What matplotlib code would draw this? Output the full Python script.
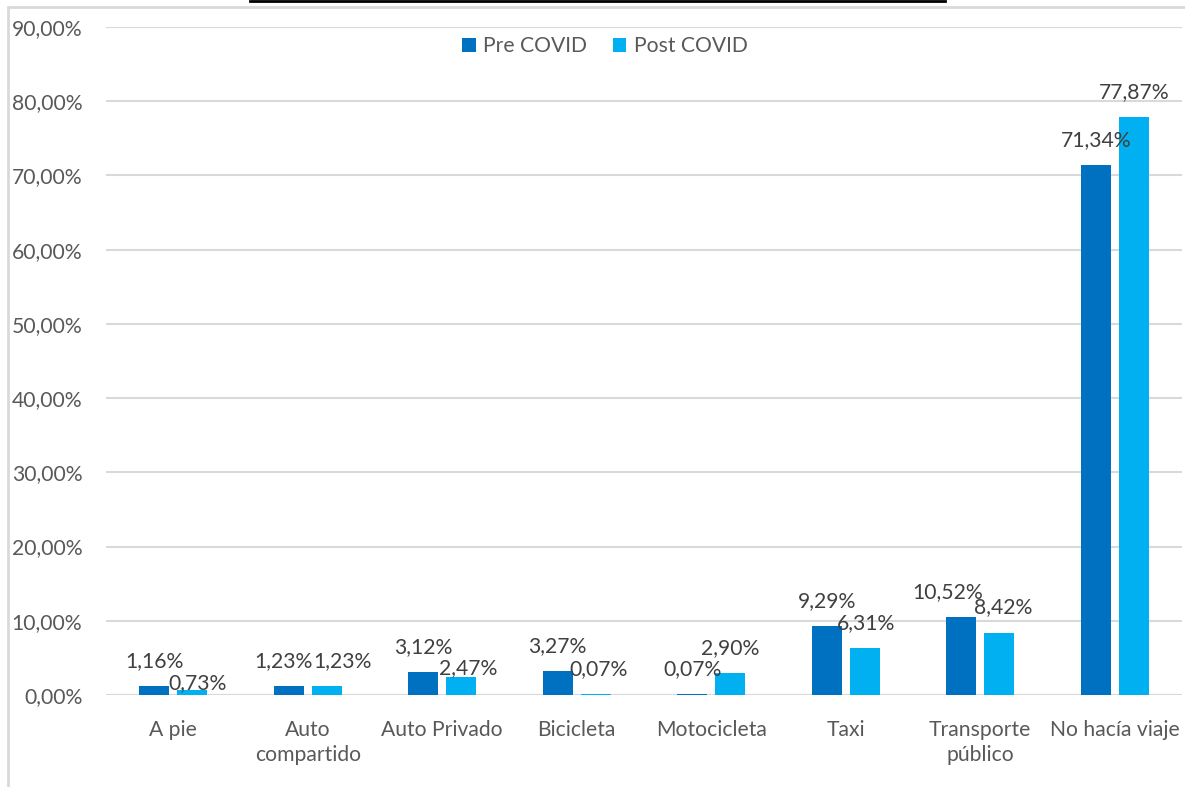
import matplotlib
matplotlib.use("Agg")
import matplotlib.pyplot as plt
import numpy as np
from matplotlib.lines import Line2D
from matplotlib.patches import Rectangle

categories = ["A pie", "Auto\ncompartido", "Auto Privado", "Bicicleta",
              "Motocicleta", "Taxi", "Transporte\npúblico", "No hacía viaje"]
pre_covid = [1.16, 1.23, 3.12, 3.27, 0.07, 9.29, 10.52, 71.34]
post_covid = [0.73, 1.23, 2.47, 0.07, 2.90, 6.31, 8.42, 77.87]
yticks = np.arange(0, 100, 10)

# nudges (pixels) of data labels, as Excel spreads crowded labels apart
pre_dx = [0, -5, 0, 0, 0, 0, -14, 0]
post_dx = [5, 16, 7, 3, 0, 1, 4, 0]
post_dy = [-19, 0, -16, 0, 0, 0, 0, 0]

PRE_C, POST_C = "#0070C0", "#00B0F0"
TXT = "#595959"
LBL = "#404040"
GRID = "#D9D9D9"
FS = 15.2
plt.rcParams["font.family"] = ["Lato", "DejaVu Sans"]

W, H = 1185, 787
fig = plt.figure(figsize=(W / 100, H / 100), dpi=100)
ax = fig.add_axes([106 / W, (H - 695) / H, (1182 - 106) / W, (695 - 27) / H])

x = np.arange(len(categories))
bw, gap = 0.223, 0.06
pre = np.array(pre_covid) / 100
post = np.array(post_covid) / 100
b1 = ax.bar(x - (bw + gap) / 2, pre, bw, color=PRE_C, label="Pre COVID", zorder=3)
b2 = ax.bar(x + (bw + gap) / 2, post, bw, color=POST_C, label="Post COVID", zorder=3)

def fmt(v):
    return f"{v:.2f}".replace(".", ",") + "%"

series = ((b1, pre_covid, pre_dx, [0] * len(pre_covid)),
          (b2, post_covid, post_dx, post_dy))
for bars, vals, dxs, dys in series:
    for r, v, dx, dy in zip(bars, vals, dxs, dys):
        ax.annotate(fmt(v), (r.get_x() + r.get_width() / 2, r.get_height()),
                    xytext=(dx, 15 + dy), textcoords="offset pixels", ha="center", va="bottom",
                    fontsize=FS, color=LBL, zorder=5)

ax.set_xlim(-0.5, len(categories) - 0.5)
ax.set_ylim(0, 0.9)
ax.set_yticks(yticks / 100)
ax.set_yticklabels([fmt(t) for t in yticks])
ax.set_xticks(x)
ax.set_xticklabels(categories, linespacing=1.3)
ax.tick_params(axis="y", length=0, pad=17, labelsize=FS, labelcolor=TXT)
ax.tick_params(axis="x", length=0, pad=18, labelsize=FS, labelcolor=TXT)
ax.grid(axis="y", color=GRID, linewidth=1.5, zorder=0)
for s in ax.spines.values():
    s.set_visible(False)
ax.axhline(0, color=GRID, linewidth=1.5, zorder=2)

leg = fig.legend(loc="center", bbox_to_anchor=(605 / W, 1 - 46 / H), ncol=2, frameon=False,
                 fontsize=FS, labelcolor=TXT, handlelength=0.65, handleheight=0.65,
                 handletextpad=0.35, columnspacing=1.2)

# chart-area border and cropped line at the very top
fig.add_artist(Rectangle((8 / W, -0.1), 1.2, 1 - 7 / H + 0.1, transform=fig.transFigure,
                         fill=False, edgecolor=GRID, linewidth=2))
fig.add_artist(Line2D([250 / W, 945 / W], [1 - 1 / H, 1 - 1 / H], transform=fig.transFigure,
                      color="black", linewidth=2))

fig.savefig("out.png", dpi=100)
